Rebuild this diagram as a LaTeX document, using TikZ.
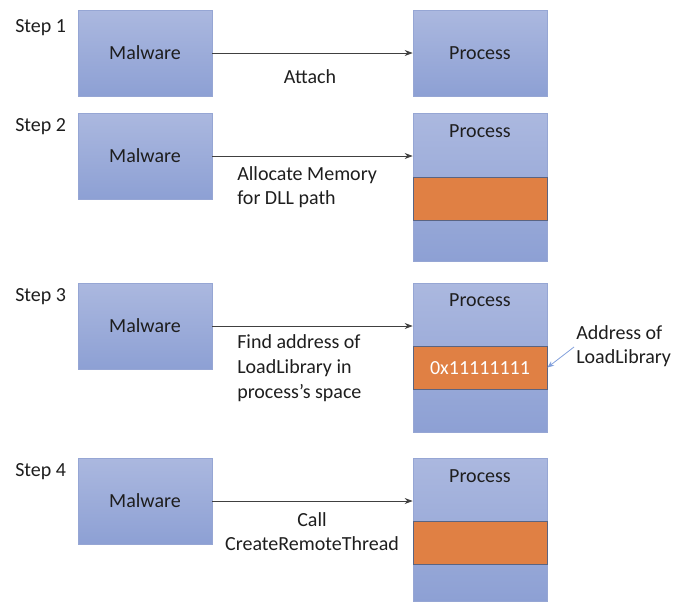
\documentclass[tikz,border=0pt]{standalone}
\usepackage{fontspec}
\setmainfont{Carlito}
\usetikzlibrary{arrows.meta}
\definecolor{btop}{RGB}{171,184,223}
\definecolor{bbot}{RGB}{141,160,212}
\definecolor{bedge}{RGB}{150,166,212}
\definecolor{orng}{RGB}{224,128,68}
\definecolor{oedge}{RGB}{90,100,130}
\definecolor{txt}{RGB}{30,30,30}
\definecolor{larr}{RGB}{130,160,220}
\begin{document}
\begin{tikzpicture}[x=0.75pt,y=-0.75pt,
  every node/.style={font=\fontsize{15}{18}\selectfont, text=txt, inner sep=0pt},
  malbox/.style={draw=bedge, line width=0.5pt, top color=btop, bottom color=bbot, minimum width=100.5pt, minimum height=64.5pt},
  procbox/.style={draw=bedge, line width=0.5pt, top color=btop, bottom color=bbot},
  memblk/.style={draw=oedge, line width=0.6pt, fill=orng},
  conn/.style={draw=black!75, line width=0.6pt, -{Stealth[length=6pt,width=4.5pt]}},
  steplbl/.style={anchor=west},
]
\useasboundingbox (0,0) rectangle (677,601);

% ---------- Step 1
\node[steplbl] (s1) at (15,28) {Step 1};
\node[malbox] (m1) at (145,53) {Malware};
\node[procbox, minimum width=100.5pt, minimum height=64.5pt] (p1) at (480,53) {};
\node (p1t) at (480,53) {Process};
\draw[conn] (m1.east) -- (m1.east -| p1.west);
\node (l1) at (310,77) {Attach};

% ---------- Step 2
\node[steplbl] (s2) at (15,127) {Step 2};
\node[malbox] (m2) at (145,156) {Malware};
\node[procbox, minimum width=100.5pt, minimum height=111pt] (p2) at (480,187) {};
\node[memblk, minimum width=100.5pt, minimum height=32.25pt] (o2) at (480,198.5) {};
\node (p2t) at (480,131) {Process};
\draw[conn] (m2.east) -- (m2.east -| p2.west);
\node[anchor=west, align=left] (l2) at (237,187.5) {Allocate Memory\\for DLL path};

% ---------- Step 3
\node[steplbl] (s3) at (15,297) {Step 3};
\node[malbox] (m3) at (145,326) {Malware};
\node[procbox, minimum width=100.5pt, minimum height=111.75pt] (p3) at (480,357.5) {};
\node[memblk, minimum width=100.5pt, minimum height=32.25pt] (o3) at (480,367.5) {};
\node[text=white] (o3t) at (480,368) {0x11111111};
\node (p3t) at (480,300) {Process};
\draw[conn] (m3.east) -- (m3.east -| p3.west);
\node[anchor=west, align=left, font=\fontsize{15}{18.75}\selectfont] (l3) at (237,368) {Find address of\\LoadLibrary in\\process’s space};
\node[anchor=west, align=left] (a3) at (576,346.5) {Address of\\LoadLibrary};
\coordinate (a3s) at (574,347);
\draw[draw=larr, line width=0.6pt, -{Stealth[length=5pt,width=4pt]}] (a3s) -- (o3.east);

% ---------- Step 4
\node[steplbl] (s4) at (15,472) {Step 4};
\node[malbox] (m4) at (145,501) {Malware};
\node[procbox, minimum width=100.5pt, minimum height=107.25pt] (p4) at (480,529.5) {};
\node[memblk, minimum width=100.5pt, minimum height=32.25pt] (o4) at (480,542.5) {};
\node (p4t) at (480,476) {Process};
\draw[conn] (m4.east) -- (m4.east -| p4.west);
\node[align=center] (l4) at (312,531.5) {Call\\CreateRemoteThread};
\end{tikzpicture}
\end{document}
